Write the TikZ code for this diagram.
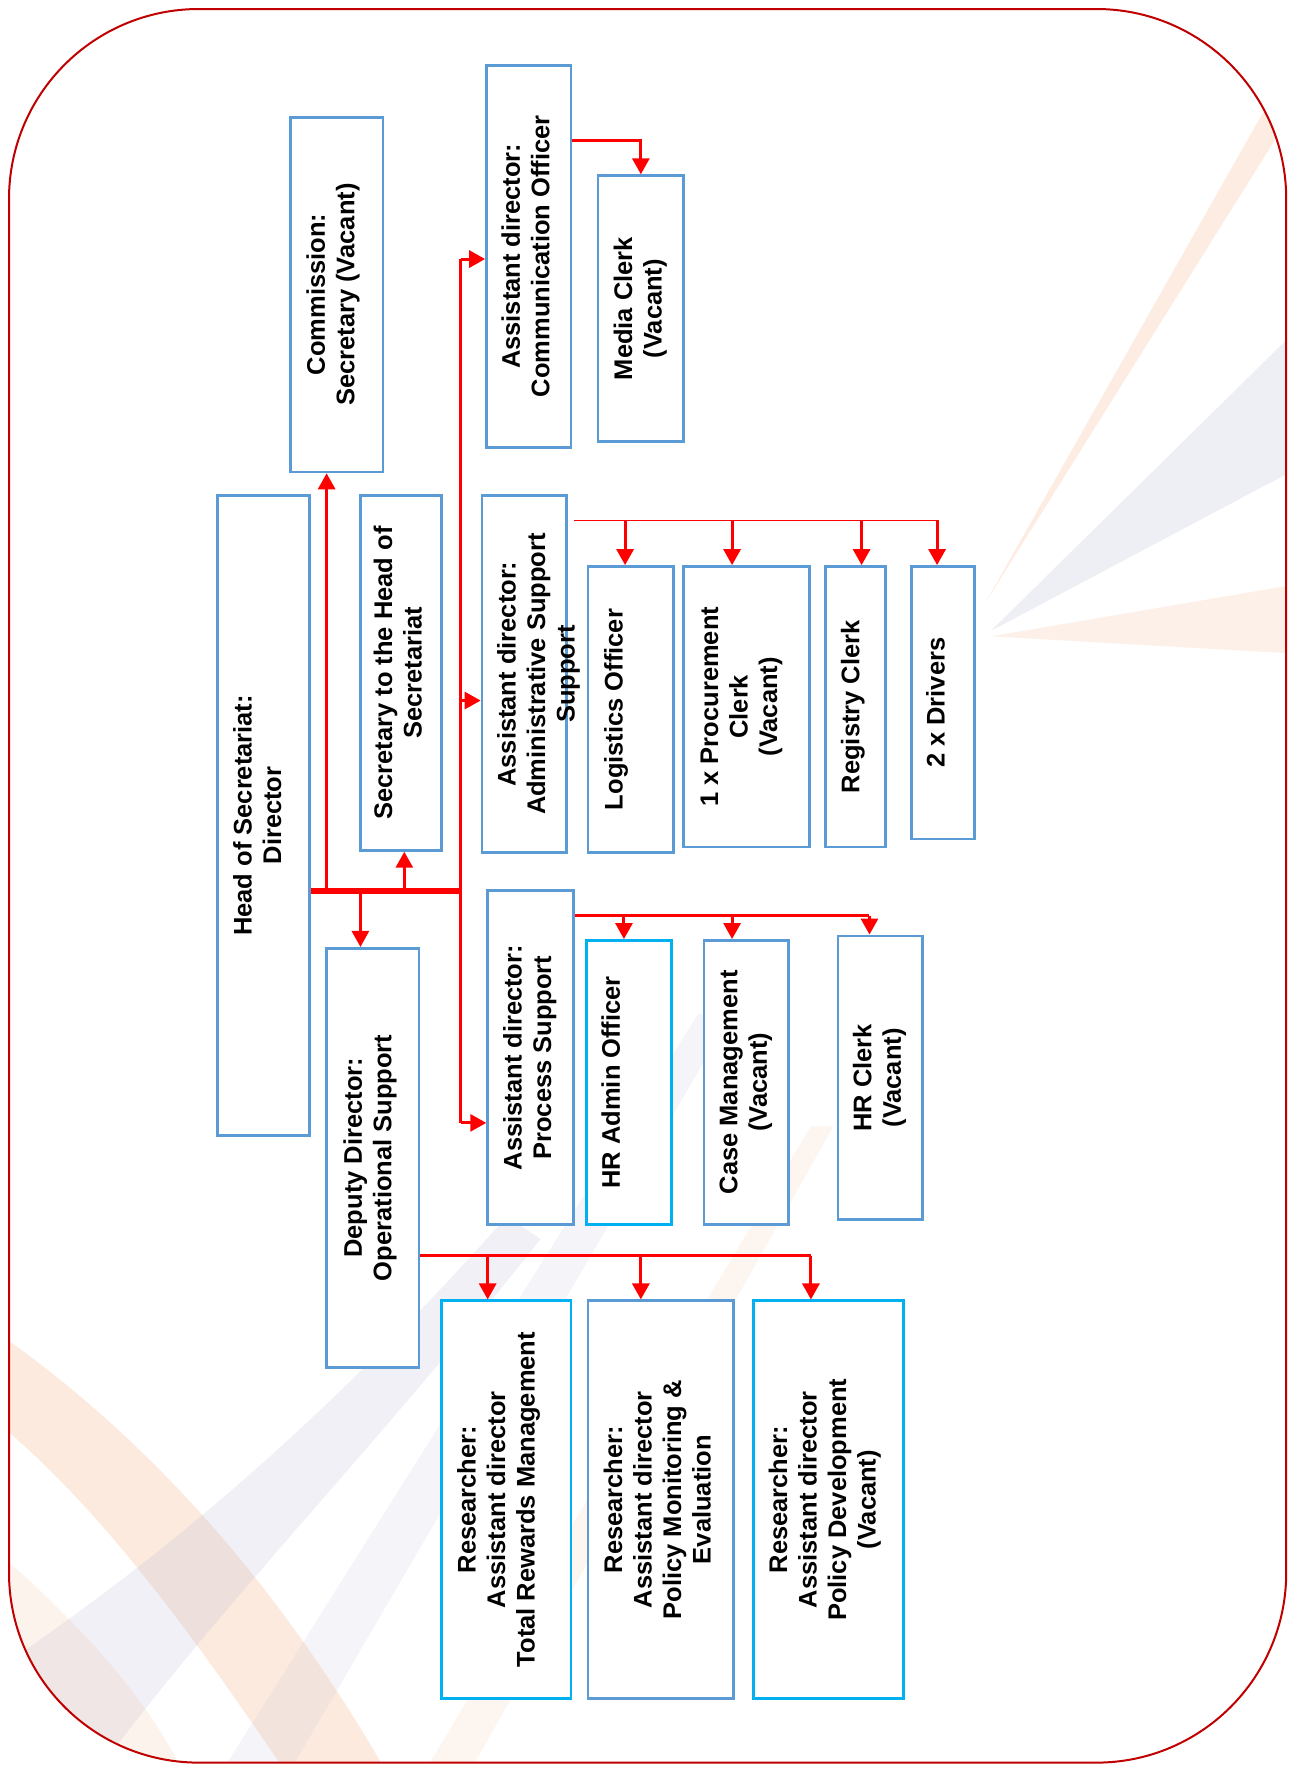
\documentclass[tikz,border=0pt]{standalone}
\usepackage{fontspec}
\setmainfont{Liberation Sans}
\usetikzlibrary{arrows.meta,fit}
\definecolor{boxblue}{RGB}{91,155,213}
\definecolor{boxcyan}{RGB}{0,176,240}
\definecolor{framered}{RGB}{192,0,0}
\definecolor{swoosh}{RGB}{245,160,110}
\definecolor{swgrey}{RGB}{180,180,210}
\newcommand{\rt}[1]{\rotatebox{90}{\begin{tabular}{@{}c@{}}#1\end{tabular}}}
\begin{document}
\begin{tikzpicture}[x=1.1268pt,y={(0pt,-1.1268pt)},
  txt/.style={font=\fontsize{25.5pt}{29.5pt}\selectfont\bfseries},
  box/.style={draw=boxblue, line width=2.8pt, fill=white, inner sep=0pt},
  cbox/.style={box, draw=boxcyan},
  lbl/.style={txt, inner sep=0pt},
  arr/.style={draw=red, line width=3pt, -{Triangle[length=16pt,width=17pt]}},
  busline/.style={draw=red, line width=6pt},
  vline/.style={draw=red, line width=3.5pt},
  medline/.style={draw=red, line width=3pt},
  thinline/.style={draw=red, line width=1.5pt}]
\useasboundingbox (0,0) rectangle (1144,1568);
\fill[white] (0,0) rectangle (1144,1568);
% background swooshes
\begin{scope}
\clip[rounded corners=190pt] (8,8) rectangle (1142,1565);
\fill[swoosh, opacity=0.22] (0,1185) .. controls (150,1290) and (260,1430) .. (340,1568) -- (250,1568) .. controls (170,1450) and (90,1340) .. (0,1265) -- cycle;
\fill[swgrey, opacity=0.2] (0,1480) .. controls (150,1380) and (300,1250) .. (450,1080) -- (480,1100) .. controls (330,1290) and (200,1420) .. (90,1568) -- (0,1568) -- cycle;
\fill[swoosh, opacity=0.12] (0,1380) .. controls (80,1450) and (130,1510) .. (160,1568) -- (0,1568) -- cycle;
\fill[swgrey, opacity=0.12] (200,1568) -- (620,900) -- (650,900) -- (260,1568) -- cycle;
\fill[swoosh, opacity=0.1] (380,1568) -- (720,1000) -- (740,1000) -- (420,1568) -- cycle;
\fill[swoosh, opacity=0.2] (1144,60) -- (1144,105) -- (875,535) -- cycle;
\fill[swgrey, opacity=0.22] (1144,300) -- (1144,420) -- (880,560) -- cycle;
\fill[swoosh, opacity=0.15] (1144,520) -- (1144,580) -- (880,565) -- cycle;
\end{scope}
\draw[framered, line width=2pt, rounded corners=190pt] (8,8) rectangle (1142,1565);
% boxes
\node[box, fit={(193,440)(275,1008)}, label={[lbl,xshift=-3pt]center:\rt{Head of Secretariat:\\Director}}] (head) {};
\node[box, fit={(258,104)(340,419)}, label={[lbl,xshift=-3pt]center:\rt{Commission:\\Secretary (Vacant)}}] (comm) {};
\node[box, fit={(320,440)(392,755)}, label={[lbl]center:\rt{Secretary to the Head of\\Secretariat}}] (sec) {};
\node[box, fit={(290,842)(372,1214)}, label={[lbl,xshift=-2pt]center:\rt{Deputy Director:\\Operational Support}}] (dep) {};
\node[box, fit={(432,58)(507,397)}, label={[lbl]center:\rt{Assistant director:\\Communication Officer}}] (commoff) {};
\node[box, fit={(531,156)(607,392)}, label={[lbl]center:\rt{Media Clerk\\(Vacant)}}] (media) {};
\node[box, fit={(428,440)(503,757)}, label={[lbl,xshift=15pt]center:\rt{Assistant director:\\Administrative Support\\Support}}] (admin) {};
\node[box, fit={(522,503)(598,757)}, label={[lbl,xshift=-14pt]center:\rt{Logistics Officer}}] (log) {};
\node[box, fit={(607,503)(719,752)}, label={[lbl,xshift=-5pt]center:\rt{1 x Procurement\\Clerk\\(Vacant)}}] (proc) {};
\node[box, fit={(733,503)(786,752)}, label={[lbl,xshift=-2pt]center:\rt{Registry Clerk}}] (reg) {};
\node[box, fit={(809,503)(865,745)}, label={[lbl,xshift=-4pt]center:\rt{2 x Drivers}}] (drv) {};
\node[box, fit={(433,791)(509,1087)}, label={[lbl]center:\rt{Assistant director:\\Process Support}}] (procsup) {};
\node[cbox, fit={(521,835)(596,1087)}, label={[lbl,xshift=-15pt]center:\rt{HR Admin Officer}}] (hradmin) {};
\node[box, fit={(625,835)(700,1087)}, label={[lbl]center:\rt{Case Management\\(Vacant)}}] (case) {};
\node[box, fit={(744,831)(819,1083)}, label={[lbl]center:\rt{HR Clerk\\(Vacant)}}] (hrclerk) {};
\node[cbox, fit={(392,1155)(507,1508)}, label={[lbl,xshift=-7pt]center:\rt{Researcher:\\Assistant director\\Total Rewards Management}}] (res1) {};
\node[box, fit={(522,1155)(651,1508)}, label={[lbl]center:\rt{Researcher:\\Assistant director\\Policy Monitoring \&\\Evaluation}}] (res2) {};
\node[cbox, fit={(669,1155)(802,1508)}, label={[lbl,xshift=-3pt]center:\rt{Researcher:\\Assistant director\\Policy Development\\(Vacant)}}] (res3) {};
% main bus
\coordinate (b) at (409,791);
\coordinate (v1) at (409,230);
\coordinate (v2) at (409,622);
\coordinate (v3) at (409,997);
\draw[vline] (v1) -- (v3);
\draw[busline] (head.east |- b) -- (b);
\coordinate (bc) at (290,791);
\coordinate (bd) at (320,791);
\coordinate (bs) at (359,791);
\draw[arr] (bc) -- (bc |- comm.south);
\draw[arr] (bd) -- (bd |- dep.north);
\draw[arr] (bs) -- (bs |- sec.south);
\draw[arr] (v1) -- (v1 -| commoff.west);
\draw[arr] (v2) -- (v2 -| admin.west);
\draw[arr] (v3) -- (v3 -| procsup.west);
% communication
\coordinate (c1) at (507,125);
\draw[arr] (commoff.east |- c1) -| (media.north);
% admin support
\coordinate (a0) at (510,462);
\coordinate (a4) at (832,462);
\draw[thinline] (a0) -- (a4);
\foreach \x/\n in {555/log,650/proc,765/reg,832/drv}{
  \coordinate (t) at (\x,462);
  \draw[arr] (t) -- (t |- \n.north);
}
% process support
\coordinate (p0) at (509,813);
\coordinate (p3) at (772,813);
\draw[medline] (procsup.east |- p0) -- (p3);
\foreach \x/\n in {554/hradmin,650/case,772/hrclerk}{
  \coordinate (t) at (\x,813);
  \draw[arr] (t) -- (t |- \n.north);
}
% deputy
\coordinate (d0) at (372,1115);
\coordinate (d3) at (720,1115);
\draw[medline] (dep.east |- d0) -- (d3);
\foreach \x/\n in {433/res1,569/res2,720/res3}{
  \coordinate (t) at (\x,1115);
  \draw[arr] (t) -- (t |- \n.north);
}
\end{tikzpicture}
\end{document}
